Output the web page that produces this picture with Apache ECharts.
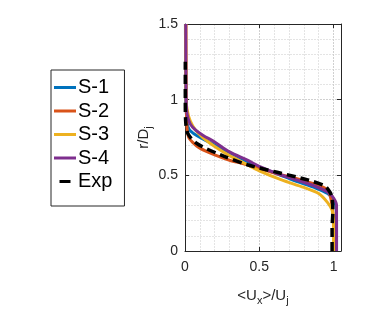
<!DOCTYPE html>
<html><head><meta charset="utf-8">
<script src="https://cdn.jsdelivr.net/npm/echarts@6/dist/echarts.min.js"></script>
<style>html,body{margin:0;padding:0;background:#fff}#c{width:386px;height:311px}</style>
</head><body><div id="c"></div>
<script>
const seriesNames = ['S-1','S-2','S-3','S-4','Exp'];
const colors = ['#0072BD','#D95319','#EDB120','#7E2F8E','#000000'];
const xTicks = [0, 0.5, 1];
const yTicks = [0, 0.5, 1, 1.5];
// [Ux/Uj, r/Dj]
const s1 = [[1.02,0],[1.02,0.2],[1.015,0.3],[1.0,0.34],[0.96,0.38],[0.87,0.42],[0.75,0.46],[0.62,0.51],[0.5,0.555],[0.4,0.6],[0.3,0.65],[0.2,0.7],[0.12,0.74],[0.06,0.775],[0.03,0.8],[0.015,0.84],[0.01,0.9],[0.005,1.0],[0.003,1.5]];
const s2 = [[1.01,0],[1.0,0.2],[0.99,0.3],[0.975,0.37],[0.95,0.41],[0.88,0.44],[0.78,0.47],[0.62,0.51],[0.5,0.545],[0.4,0.575],[0.3,0.6],[0.2,0.635],[0.1,0.68],[0.05,0.72],[0.025,0.75],[0.015,0.8],[0.01,0.9],[0.008,1.0],[0.006,1.5]];
const s3 = [[1.0,0],[1.0,0.2],[0.99,0.27],[0.96,0.32],[0.9,0.38],[0.8,0.42],[0.65,0.47],[0.5,0.53],[0.4,0.58],[0.3,0.63],[0.2,0.69],[0.12,0.75],[0.07,0.8],[0.035,0.86],[0.015,0.93],[0.008,1.0],[0.005,1.5]];
const s4 = [[1.02,0],[1.02,0.2],[1.02,0.3],[1.0,0.35],[0.96,0.39],[0.87,0.43],[0.75,0.47],[0.64,0.505],[0.5,0.56],[0.42,0.6],[0.3,0.655],[0.2,0.72],[0.12,0.765],[0.07,0.8],[0.035,0.84],[0.015,0.9],[0.008,1.0],[0.005,1.5]];
const exp = [[0.99,0],[0.99,0.15],[0.995,0.26],[0.99,0.35],[0.975,0.39],[0.94,0.43],[0.825,0.47],[0.62,0.52],[0.42,0.57],[0.24,0.635],[0.08,0.71],[0.02,0.775],[0.005,0.85],[0.002,1.0],[0.002,1.25]];
const allData = [s1, s2, s3, s4, exp];

const font = 'Liberation Sans, Arial, Helvetica, sans-serif';
const axisCol = '#262626';
const chart = echarts.init(document.getElementById('c'));
const baseAxis = {
  min: 0, interval: 0.5,
  axisLine: {show: true, onZero: false, lineStyle: {color: axisCol, width: 1}},
  axisTick: {show: true, inside: true, length: 4, lineStyle: {color: axisCol}},
  minorTick: {show: false, splitNumber: 5},
  splitLine: {show: true, lineStyle: {color: '#d0d0d0', width: 1, type: [2, 1]}},
  minorSplitLine: {show: true, lineStyle: {color: '#e4e4e4', width: 1, type: [2, 1]}},
  axisLabel: {color: axisCol, fontFamily: font, fontSize: 14}
};
const series = allData.map((d, i) => ({
  name: i === 4 ? 'Exp data' : seriesNames[i], type: 'line', data: d, smooth: 0.3,
  showSymbol: false, symbol: 'none', clip: true,
  itemStyle: {color: colors[i]},
  lineStyle: i === 4 ? {color: '#000', width: 3.5, type: [9, 5]} : {color: colors[i], width: 3},
  z: 2 + i
}));
// legend proxy for the experimental curve (MATLAB shows one short dash)
series.push({name: 'Exp', type: 'line', data: [], symbol: 'none', showSymbol: false,
  itemStyle: {color: '#000'}, lineStyle: {color: '#000', width: 1, type: 'solid'}});
const dashIcon = 'path://M0,0H11V3H0Z';
chart.setOption({
  animation: false,
  backgroundColor: '#fff',
  grid: {left: 185, top: 24, width: 156, height: 232, containLabel: false},
  legend: {
    orient: 'vertical', left: 51, top: 70,
    data: seriesNames.map((n, i) => ({
      name: n, icon: i === 4 ? dashIcon : 'rect',
      itemStyle: {color: colors[i], borderWidth: 0}
    })),
    itemWidth: 22, itemHeight: 3, itemGap: 2.5,
    padding: [7, 12, 14, 3],
    borderColor: axisCol, borderWidth: 1,
    textStyle: {fontFamily: font, fontSize: 20, lineHeight: 21, color: '#000', padding: [0,0,0,-3]},
  },
  xAxis: [
    Object.assign({}, baseAxis, {type: 'value', max: 1.05, position: 'bottom',
      axisLabel: Object.assign({}, baseAxis.axisLabel, {margin: 9,
        customValues: xTicks, formatter: v => String(v)}),
      name: '{a|<U}{s|x}{a|>/U}{s|j}', nameLocation: 'middle', nameGap: 34,
      nameTextStyle: {rich: {a: {fontFamily: font, fontSize: 15, color: axisCol}, s: {fontFamily: font, fontSize: 11, color: axisCol, verticalAlign: 'bottom', padding: [10,0,0,0]}}}
    }),
    {type: 'value', min: 0, max: 1.05, interval: 0.5, position: 'top',
      axisLine: {show: true, onZero: false, lineStyle: {color: axisCol}},
      axisTick: {show: true, inside: true, length: 4, lineStyle: {color: axisCol}},
      axisLabel: {show: false}, splitLine: {show: false}}
  ],
  yAxis: [
    Object.assign({}, baseAxis, {type: 'value', max: 1.5, position: 'left',
      axisLabel: Object.assign({}, baseAxis.axisLabel, {margin: 7,
        customValues: yTicks, formatter: v => String(v)}),
      name: '{a|r/D}{s|j}', nameLocation: 'middle', nameGap: 22, nameRotate: 90,
      nameTextStyle: {rich: {a: {fontFamily: font, fontSize: 15, color: axisCol}, s: {fontFamily: font, fontSize: 11, color: axisCol, padding: [10,0,0,0]}}}
    }),
    {type: 'value', min: 0, max: 1.5, interval: 0.5, position: 'right',
      axisLine: {show: true, onZero: false, lineStyle: {color: axisCol}},
      axisTick: {show: true, inside: true, length: 4, lineStyle: {color: axisCol}},
      axisLabel: {show: false}, splitLine: {show: false}}
  ],
  series: series
});
</script></body></html>
